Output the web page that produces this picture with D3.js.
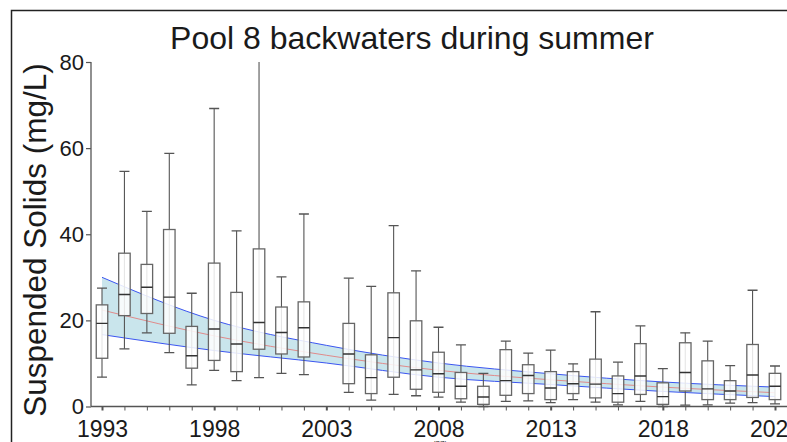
<!DOCTYPE html>
<html lang="en">
<head>
<meta charset="UTF-8"/>
<title>Pool 8 backwaters during summer</title>
<script src="https://d3js.org/d3.v7.min.js"></script>
<style>
  body { margin: 0; background: #fff; }
  svg text { font-family: "Liberation Sans", Arial, sans-serif; fill: #1a1a1a; }
</style>
</head>
<body>
<div id="chart"></div>
<script>

// Years with samples (no 2003)
var years = [1993, 1994, 1995, 1996, 1997, 1998, 1999, 2000, 2001, 2002,
             2004, 2005, 2006, 2007, 2008, 2009, 2010, 2011, 2012, 2013,
             2014, 2015, 2016, 2017, 2018, 2019, 2020, 2021, 2022, 2023];

// box statistics (mg/L)
var whiskerLow = [6.8, 13.4, 17.1, 12.5, 5.0, 8.4, 6.0, 6.7, 7.7, 7.4,
                  3.3, 1.5, 2.8, 2.5, 2.2, 1.0, 0.0, 1.2, 1.3, 0.9,
                  1.6, 1.0, 0.4, 1.2, 0.0, 0.3, 0.4, 0.8, 0.9, 0.6];
var q1 = [11.2, 21.1, 21.6, 17.0, 8.9, 10.7, 8.1, 13.3, 12.2, 11.5,
          5.3, 3.0, 6.8, 4.0, 3.3, 1.8, 0.5, 2.6, 3.0, 1.6,
          3.0, 2.0, 1.0, 2.8, 0.5, 3.6, 1.6, 1.6, 2.1, 1.6];
var median = [19.3, 26.0, 27.7, 25.4, 11.8, 18.0, 14.5, 19.5, 17.2, 18.3,
              12.2, 6.7, 16.0, 8.5, 7.6, 4.7, 2.2, 6.0, 7.2, 4.3,
              5.3, 5.2, 3.0, 7.1, 2.3, 7.9, 4.1, 3.6, 7.3, 4.7];
var q3 = [23.6, 35.6, 33.0, 41.1, 18.6, 33.3, 26.5, 36.6, 23.1, 24.3,
          19.3, 12.0, 26.4, 19.9, 12.6, 7.9, 4.7, 13.2, 9.7, 8.1,
          8.1, 11.0, 7.1, 14.6, 5.5, 14.8, 10.6, 6.0, 14.4, 7.7];
var whiskerHigh = [27.5, 54.6, 45.3, 58.8, 26.3, 69.2, 40.8, 88.0, 30.1, 44.7,
                   29.8, 27.9, 42.0, 31.5, 18.4, 14.3, 7.7, 15.2, 12.4, 13.1,
                   9.9, 22.0, 10.3, 18.7, 8.8, 17.1, 15.2, 9.5, 27.0, 9.4];

// trend fit with confidence band
var fitYears = [1993, 1998, 2003, 2008, 2013, 2018, 2023];
var fitValue = [22.4, 16.4, 11.9, 8.4, 6.2, 4.5, 3.2];
var fitLower = [16.7, 13.0, 10.1, 6.8, 5.1, 3.5, 2.3];
var fitUpper = [30.0, 20.0, 14.2, 10.1, 7.6, 5.7, 4.5];

var yTicks = [0, 20, 40, 60, 80];
var xLabelYears = [1993, 1998, 2003, 2008, 2013, 2018, 2023];

var w = 787, h = 442;
var mLeft = 91, mTop = 62, mBottom = 406.5, mRight = 787;

var x = d3.scaleLinear().domain([1993, 2023]).range([102, 775]);
var y = d3.scaleLinear().domain([0, 80]).range([mBottom, mTop]);

var svg = d3.select("#chart").append("svg")
    .attr("width", w).attr("height", h);

// outer frame (only left and top edges fall inside the picture)
svg.append("path")
    .attr("d", "M11.5," + h + "V10.5H" + w)
    .attr("fill", "none").attr("stroke", "#222").attr("stroke-width", 1.5);

svg.append("defs").append("clipPath").attr("id", "plotclip")
  .append("rect").attr("x", mLeft).attr("y", mTop)
  .attr("width", mRight - mLeft).attr("height", mBottom - mTop + 2);

var plot = svg.append("g").attr("clip-path", "url(#plotclip)");

// band
var fit = fitYears.map(function(d, i) {
    return {yr: d, v: fitValue[i], lo: fitLower[i], hi: fitUpper[i]};
});

plot.append("path")
    .datum(fit)
    .attr("fill", "#c9e5ec")
    .attr("d", d3.area().curve(d3.curveMonotoneX)
        .x(function(d) { return x(d.yr); })
        .y0(function(d) { return y(d.lo); })
        .y1(function(d) { return y(d.hi); }));

["lo", "hi"].forEach(function(k) {
    plot.append("path")
        .datum(fit)
        .attr("fill", "none").attr("stroke", "#3b55f0").attr("stroke-width", 1)
        .attr("d", d3.line().curve(d3.curveMonotoneX)
            .x(function(d) { return x(d.yr); })
            .y(function(d) { return y(d[k]); }));
});

plot.append("path")
    .datum(fit)
    .attr("fill", "none").attr("stroke", "#e08a8a").attr("stroke-width", 1)
    .attr("d", d3.line().curve(d3.curveMonotoneX)
        .x(function(d) { return x(d.yr); })
        .y(function(d) { return y(d.v); }));

// boxes
var boxes = years.map(function(d, i) {
    return {yr: d, lo: whiskerLow[i], q1: q1[i], med: median[i], q3: q3[i], hi: whiskerHigh[i]};
});

var bw = 11.5, cw = 10;
var g = plot.selectAll("g.box").data(boxes).enter().append("g").attr("class", "box");

g.append("line")
    .attr("x1", function(d) { return x(d.yr); })
    .attr("x2", function(d) { return x(d.yr); })
    .attr("y1", function(d) { return y(d.hi); })
    .attr("y2", function(d) { return y(d.lo); })
    .attr("stroke", "#555").attr("stroke-width", 1.1);

g.selectAll("line.cap")
    .data(function(d) { return [{yr: d.yr, v: d.hi}, {yr: d.yr, v: d.lo}]; })
    .enter().append("line").attr("class", "cap")
    .attr("x1", function(d) { return x(d.yr) - cw / 2; })
    .attr("x2", function(d) { return x(d.yr) + cw / 2; })
    .attr("y1", function(d) { return y(d.v); })
    .attr("y2", function(d) { return y(d.v); })
    .attr("stroke", "#555").attr("stroke-width", 1.3);

g.append("rect")
    .attr("x", function(d) { return x(d.yr) - bw / 2; })
    .attr("y", function(d) { return y(d.q3); })
    .attr("width", bw)
    .attr("height", function(d) { return y(d.q1) - y(d.q3); })
    .attr("fill", "#fff").attr("fill-opacity", 0.85)
    .attr("stroke", "#666").attr("stroke-width", 1.3);

g.append("line")
    .attr("x1", function(d) { return x(d.yr) - bw / 2; })
    .attr("x2", function(d) { return x(d.yr) + bw / 2; })
    .attr("y1", function(d) { return y(d.med); })
    .attr("y2", function(d) { return y(d.med); })
    .attr("stroke", "#333").attr("stroke-width", 1.4);

// axes
svg.append("line")
    .attr("x1", mLeft).attr("x2", mLeft).attr("y1", mTop).attr("y2", mBottom)
    .attr("stroke", "#555").attr("stroke-width", 1.3);
svg.append("line")
    .attr("x1", mLeft).attr("x2", mRight).attr("y1", mBottom).attr("y2", mBottom)
    .attr("stroke", "#555").attr("stroke-width", 1.3);

var yAxis = svg.append("g").attr("transform", "translate(" + mLeft + ",0)")
    .call(d3.axisLeft(y).tickValues(yTicks).tickSize(5).tickPadding(2));
yAxis.select(".domain").remove();
yAxis.selectAll("line").attr("stroke", "#555").attr("stroke-width", 1.2);
yAxis.selectAll("text").attr("font-size", 22).attr("fill", "#1a1a1a")
    .attr("font-family", "Liberation Sans, Arial, sans-serif");

var allYears = d3.range(1993, 2024);
var xAxis = svg.append("g").attr("transform", "translate(0," + mBottom + ")")
    .call(d3.axisBottom(x).tickValues(allYears).tickSize(4).tickPadding(10)
        .tickFormat(function(d) { return xLabelYears.indexOf(d) >= 0 ? d : ""; }));
xAxis.select(".domain").remove();
xAxis.selectAll("line").attr("stroke", "#555")
    .attr("stroke-width", function(d) { return xLabelYears.indexOf(d) >= 0 ? 2 : 1; });
xAxis.selectAll("text").attr("font-size", 23).attr("fill", "#1a1a1a")
    .attr("font-family", "Liberation Sans, Arial, sans-serif");

// titles
svg.append("text")
    .attr("x", 412).attr("y", 49)
    .attr("text-anchor", "middle")
    .attr("font-size", 32)
    .text("Pool 8 backwaters during summer");

svg.append("text")
    .attr("transform", "translate(46,240) rotate(-90)")
    .attr("text-anchor", "middle")
    .attr("font-size", 31.5)
    .text("Suspended Solids (mg/L)");

svg.append("text")
    .attr("x", 440).attr("y", 446)
    .attr("text-anchor", "middle")
    .attr("font-size", 8).attr("fill", "#666")
    .text("(27)");

</script>
</body>
</html>
